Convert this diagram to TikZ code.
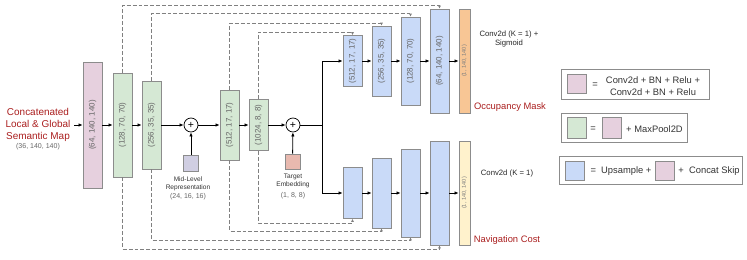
\documentclass[tikz,border=0pt]{standalone}
\usepackage{fontspec}
\setmainfont{Liberation Sans}
\usepackage{xcolor}
\usetikzlibrary{arrows.meta, positioning, calc}

\definecolor{encpink}{HTML}{E6D0DE}
\definecolor{encgreen}{HTML}{D5E8D4}
\definecolor{decblue}{HTML}{C9DAF8}
\definecolor{midpurple}{HTML}{D0CEE2}
\definecolor{tgtsalmon}{HTML}{E8B9AF}
\definecolor{occorange}{HTML}{F8C695}
\definecolor{navyellow}{HTML}{FFF2CC}
\definecolor{edgegray}{HTML}{8C8C8C}
\definecolor{labelred}{HTML}{AA1E1E}

\begin{document}
\begin{tikzpicture}[x=0.03cm, y=-0.03cm,
    blk/.style={rectangle, draw=edgegray, line width=0.6pt, inner sep=0pt,
        minimum width=19*0.03cm, minimum height=#1*0.03cm},
    dims/.style={rotate=90, inner sep=0pt, text=black!60, font=\fontsize{6.8}{8}\selectfont},
    outdims/.style={rotate=90, inner sep=0pt, text=black!50, font=\fontsize{4.8}{6}\selectfont},
    plus/.style={circle, draw, line width=0.6pt, fill=white, inner sep=0pt,
        minimum size=14*0.03cm, font=\small},
    arr/.style={-{Latex[length=3.5pt,width=3pt]}, line width=0.7pt},
    skip/.style={draw=black!50, line width=0.6pt, dash pattern=on 3.4pt off 1.7pt,
        -{Latex[length=2.5pt,width=2.5pt]}},
    redlbl/.style={text=labelred, font=\fontsize{8.5}{10.2}\selectfont, align=center, inner sep=0pt},
    note/.style={text=black!80, font=\fontsize{5.6}{6.8}\selectfont, align=center, inner sep=0pt},
    sizetxt/.style={text=black!60, font=\fontsize{6}{7}\selectfont, inner sep=0pt},
    headtxt/.style={text=black!85, font=\fontsize{6.6}{8.5}\selectfont, align=center, inner sep=0pt},
    legtxt/.style={text=black!80, font=\fontsize{8}{10}\selectfont, align=center, inner sep=0pt},
    legbox/.style={rectangle, draw=edgegray, line width=0.6pt, inner sep=0pt},
    legsq/.style={rectangle, draw=edgegray, line width=0.6pt, inner sep=0pt,
        minimum width=19*0.03cm, minimum height=19*0.03cm}]
    \useasboundingbox (0,0) rectangle (747,260);

    % input
    \node[redlbl] (input) at (38,125) {Concatenated\\Local \& Global\\Semantic Map};
    \node[sizetxt] (insize) at (38,147) {(36, 140, 140)};

    % encoder
    \node[blk=126, fill=encpink] (enc0) at (92.5,125) {};
    \node[dims] (enc0t) at (enc0) {(64, 140, 140)};
    \node[blk=104, fill=encgreen] (enc1) at (122.5,125) {};
    \node[dims] (enc1t) at (enc1) {(128, 70, 70)};
    \node[blk=88, fill=encgreen] (enc2) at (151.5,125) {};
    \node[dims] (enc2t) at (enc2) {(256, 35, 35)};
    \node[plus] (plus1) at (191,125) {+};
    \node[legsq, minimum width=15*0.03cm, minimum height=16*0.03cm, fill=midpurple] (mid) at (191,163) {};
    \node[note] (midt) at (188,184) {Mid-Level\\Representation};
    \node[sizetxt] (midsize) at (188,197) {(24, 16, 16)};
    \node[blk=70, fill=encgreen] (enc3) at (229.5,125) {};
    \node[dims] (enc3t) at (enc3) {(512, 17, 17)};
    \node[blk=51, fill=encgreen] (enc4) at (258.5,125) {};
    \node[dims] (enc4t) at (enc4) {(1024, 8, 8)};
    \node[plus] (plus2) at (293,125) {+};
    \node[legsq, minimum width=15*0.03cm, minimum height=15*0.03cm, fill=tgtsalmon] (tgt) at (292.5,161.5) {};
    \node[note] (tgtt) at (293,180.5) {Target\\Embedding};
    \node[sizetxt] (tgtsize) at (293,196) {(1, 8, 8)};
    \coordinate (split) at (322,125);

    % occupancy decoder
    \node[blk=51, fill=decblue] (dec1) at (352.5,61) {};
    \node[dims] (dec1t) at (dec1) {(512, 17, 17)};
    \node[blk=70, fill=decblue] (dec2) at (381.5,61) {};
    \node[dims] (dec2t) at (dec2) {(256, 35, 35)};
    \node[blk=88, fill=decblue] (dec3) at (410.5,61) {};
    \node[dims] (dec3t) at (dec3) {(128, 70, 70)};
    \node[blk=104, fill=decblue] (dec4) at (439.5,61) {};
    \node[dims] (dec4t) at (dec4) {(64, 140, 140)};
    \node[blk=104, minimum width=11*0.03cm, fill=occorange] (occ) at (464.5,61) {};
    \node[outdims] (occt) at (occ) {(1, 140, 140)};
    \node[headtxt] (occhead) at (509,39) {Conv2d (K = 1) +\\Sigmoid};
    \node[redlbl, font=\fontsize{8}{10}\selectfont] (occlbl) at (510,107) {Occupancy Mask};

    % navigation decoder
    \node[blk=51, fill=decblue] (bot1) at (352.5,193) {};
    \node[blk=70, fill=decblue] (bot2) at (381.5,193) {};
    \node[blk=88, fill=decblue] (bot3) at (410.5,193) {};
    \node[blk=104, fill=decblue] (bot4) at (439.5,193) {};
    \node[blk=104, minimum width=11*0.03cm, fill=navyellow] (nav) at (464.5,193) {};
    \node[outdims] (navt) at (nav) {(1, 140, 140)};
    \node[headtxt] (navhead) at (507,174) {Conv2d (K = 1)};
    \node[redlbl, font=\fontsize{8}{10}\selectfont] (navlbl) at (507,240) {Navigation Cost};

    % main flow
    \draw[arr] (74,125) -- (enc0.west);
    \draw[arr] (enc0) -- (enc1);
    \draw[arr] (enc1) -- (enc2);
    \draw[arr] (enc2) -- (plus1);
    \draw[arr] (mid) -- (plus1);
    \draw[arr] (plus1) -- (enc3);
    \draw[arr] (enc3) -- (enc4);
    \draw[arr] (enc4) -- (plus2);
    \draw[arr] (tgt) -- (plus2);
    \draw[line width=0.7pt] (plus2) -- (split);
    \draw[arr] (split) |- (dec1.west);
    \draw[arr] (split) |- (bot1.west);
    \draw[arr] (dec1) -- (dec2);
    \draw[arr] (dec2) -- (dec3);
    \draw[arr] (dec3) -- (dec4);
    \draw[arr] (dec4) -- (occ);
    \draw[arr] (bot1) -- (bot2);
    \draw[arr] (bot2) -- (bot3);
    \draw[arr] (bot3) -- (bot4);
    \draw[arr] (bot4) -- (nav);

    % skip connections
    \draw[skip] (enc1.north) -- (enc1.north |- 0,5) -| (dec4.north);
    \draw[skip] (enc2.north) -- (enc2.north |- 0,13) -| (dec3.north);
    \draw[skip] (enc3.north) -- (enc3.north |- 0,23) -| (dec2.north);
    \draw[skip] (enc4.north) -- (enc4.north |- 0,32) -| (dec1.north);
    \draw[skip] (enc4.south) -- (enc4.south |- 0,223) -| (bot1.south);
    \draw[skip] (enc3.south) -- (enc3.south |- 0,231) -| (bot2.south);
    \draw[skip] (enc2.south) -- (enc2.south |- 0,240) -| (bot3.south);
    \draw[skip] (enc1.south) -- (enc1.south |- 0,249) -| (bot4.south);

    % legend
    \node[legbox, minimum width=148*0.03cm, minimum height=30*0.03cm] (leg1) at (635,84) {};
    \node[legsq, fill=encpink] (leg1a) at (576.5,83.5) {};
    \node[legtxt] (leg1eq) at (595,85) {=};
    \node[legtxt] (leg1t) at (653,86) {Conv2d + BN + Relu +\\Conv2d + BN + Relu};

    \node[legbox, minimum width=126*0.03cm, minimum height=29*0.03cm] (leg2) at (624,127.5) {};
    \node[legsq, minimum height=21*0.03cm, fill=encgreen] (leg2a) at (576.5,127.5) {};
    \node[legtxt] (leg2eq) at (593,129) {=};
    \node[legsq, minimum height=21*0.03cm, fill=encpink] (leg2b) at (611.5,127.5) {};
    \node[legtxt] (leg2t) at (654.5,129) {+ MaxPool2D};

    \node[legbox, minimum width=183*0.03cm, minimum height=28*0.03cm] (leg3) at (650.5,170) {};
    \node[legsq, fill=decblue] (leg3a) at (574.5,170.5) {};
    \node[legtxt] (leg3t) at (621,171) {=\ \ Upsample +};
    \node[legsq, fill=encpink] (leg3b) at (664.5,170.5) {};
    \node[legtxt] (leg3u) at (709,171) {+\ \ Concat Skip};
\end{tikzpicture}
\end{document}
